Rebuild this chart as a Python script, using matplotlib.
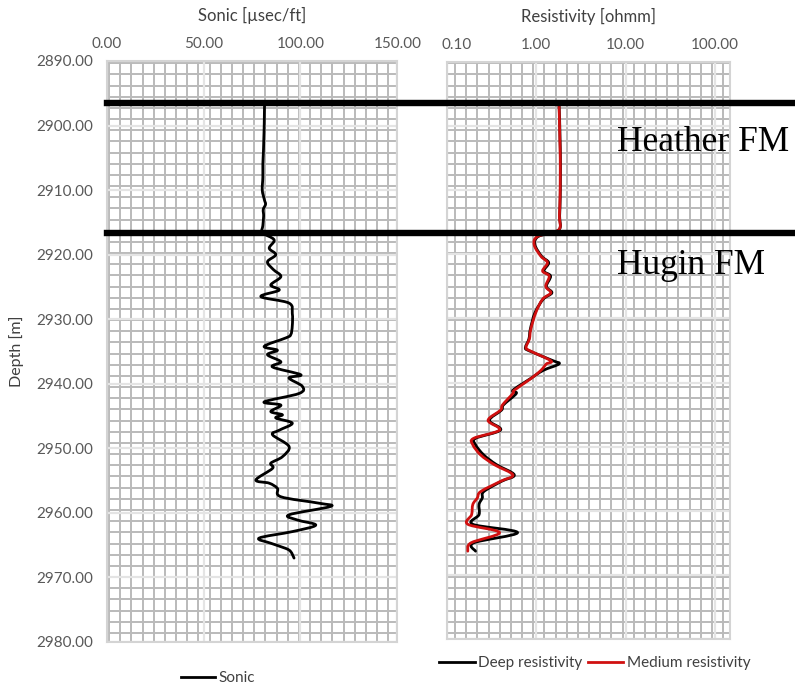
import matplotlib
matplotlib.use("Agg")
import numpy as np
import matplotlib.pyplot as plt
from matplotlib.collections import LineCollection
from matplotlib.lines import Line2D
from matplotlib.path import Path
from matplotlib.patches import PathPatch
from matplotlib.transforms import blended_transform_factory, ScaledTranslation

# --- data ---
sonic_depth = [2896.4, 2898.0, 2900.0, 2902.0, 2904.0, 2906.0, 2908.0, 2910.0, 2911.5, 2912.2,
               2913.0, 2914.0, 2915.5, 2916.6, 2917.7, 2919.0, 2920.0, 2921.1, 2922.3, 2923.4,
               2924.7, 2925.5, 2926.5, 2927.5, 2929.1, 2931.0, 2932.4, 2932.9, 2934.2, 2934.8,
               2935.5, 2936.6, 2937.4, 2938.6, 2939.1, 2940.4, 2941.5, 2942.8, 2943.3, 2944.3,
               2944.8, 2945.3, 2946.1, 2947.2, 2947.9, 2949.7, 2951.3, 2952.3, 2953.1, 2954.9,
               2955.4, 2956.2, 2957.5, 2958.5, 2959.0, 2960.3, 2961.1, 2961.9, 2962.9, 2963.9,
               2964.7, 2965.5, 2966.0, 2967.0]
sonic = [81.5, 81.4, 81.3, 81.1, 80.9, 80.6, 80.6, 80.3, 81.4, 82.0,
         80.8, 81.0, 80.6, 80.4, 86.4, 83.9, 87.3, 83.0, 86.0, 89.9,
         84.7, 89.0, 79.6, 94.1, 95.8, 95.8, 95.0, 92.4, 81.3, 88.1,
         83.0, 89.9, 85.6, 100.2, 94.1, 101.0, 99.3, 81.3, 89.9, 84.7,
         90.7, 87.3, 95.8, 89.0, 85.6, 94.1, 90.7, 84.7, 85.6, 77.0,
         83.9, 88.1, 89.9, 109.6, 115.6, 94.1, 98.4, 107.9, 95.8, 78.7,
         84.7, 92.4, 95.0, 96.7]

res_depth = [2896.4, 2899.0, 2902.0, 2905.0, 2908.0, 2911.0, 2914.0, 2916.2, 2917.2, 2918.5,
             2920.3, 2921.3, 2922.6, 2923.4, 2925.0, 2926.0, 2927.0, 2929.1, 2931.7, 2933.2,
             2934.5, 2935.0, 2936.6, 2937.1, 2938.1, 2939.4, 2941.2, 2941.7, 2943.5, 2944.3,
             2945.9, 2947.4, 2948.7, 2949.7, 2951.3, 2952.8, 2954.4, 2955.4, 2957.0, 2958.0,
             2959.0, 2960.6, 2962.1, 2963.4, 2965.0, 2966.3]
deep_res = [1.80, 1.83, 1.85, 1.87, 1.87, 1.86, 1.83, 1.79, 1.06, 0.97,
            1.15, 1.38, 1.22, 1.45, 1.30, 1.50, 1.20, 0.97, 0.86, 0.83,
            0.76, 0.82, 1.55, 1.80, 1.20, 0.86, 0.55, 0.60, 0.43, 0.41,
            0.30, 0.40, 0.21, 0.21, 0.26, 0.36, 0.57, 0.41, 0.26, 0.25,
            0.23, 0.23, 0.195, 0.62, 0.20, 0.21]
medium_res = [1.80, 1.82, 1.84, 1.86, 1.86, 1.85, 1.82, 1.78, 1.04, 0.95,
              1.13, 1.34, 1.18, 1.40, 1.28, 1.46, 1.18, 0.99, 0.87, 0.84,
              0.77, 0.84, 1.46, 1.30, 1.13, 0.87, 0.57, 0.55, 0.42, 0.40,
              0.29, 0.39, 0.20, 0.196, 0.24, 0.34, 0.55, 0.40, 0.24, 0.22,
              0.196, 0.19, 0.172, 0.39, 0.187, 0.172]

formation_tops = [2896.5, 2916.6]
formation_names = ["Heather FM", "Hugin FM"]

depth_ticks = list(range(2890, 2990, 10))
sonic_ticks = [0, 50, 100, 150]
res_ticks = [0.1, 1, 10, 100]

W, H = 795, 689
GRAY_TXT = "#595959"
plt.rcParams["font.family"] = ["Lato", "DejaVu Sans"]

fig = plt.figure(figsize=(W / 100, H / 100), dpi=100)


def px_axes(left, top, right, bottom):
    return fig.add_axes([left / W, 1 - bottom / H, (right - left) / W, (bottom - top) / H])


def graph_paper(ax, left, top, right, bottom, x0, y0, step=11.17):
    # background "graph paper" grid, uniform in pixels
    w, h = right - left, bottom - top
    segs = []
    x = x0
    while x < w - 1:
        segs.append([(x / w, 0), (x / w, 1)])
        x += step
    y = y0
    while y < h - 1:
        segs.append([(0, 1 - y / h), (1, 1 - y / h)])
        y += step
    lc = LineCollection(segs, colors="#bababa", linewidths=1.4, transform=ax.transAxes, zorder=0.3)
    ax.add_collection(lc)


def smooth_curve(ax, xs, ys, logx=False, **kw):
    # Excel-style smoothed line: Catmull-Rom segments drawn as cubic Beziers
    x = np.log10(xs) if logx else np.asarray(xs, float)
    y = np.asarray(ys, float)
    p = np.column_stack([x, y])
    p = np.vstack([p[0], p, p[-1]])
    verts = [p[1]]
    codes = [Path.MOVETO]
    for i in range(1, len(p) - 2):
        c1 = p[i] + (p[i + 1] - p[i - 1]) / 6
        c2 = p[i + 1] - (p[i + 2] - p[i]) / 6
        verts += [c1, c2, p[i + 1]]
        codes += [Path.CURVE4] * 3
    verts = np.array(verts)
    if logx:
        verts[:, 0] = 10 ** verts[:, 0]
    ax.add_patch(PathPatch(Path(verts, codes), fill=False, capstyle="round",
                           joinstyle="round", **kw))


def style(ax):
    for s in ax.spines.values():
        s.set_color("#d4d4d4")
        s.set_linewidth(1.5)
    ax.grid(True, which="major", color="#e4e4e4", linewidth=1.6, zorder=0.4)
    ax.set_axisbelow(True)
    ax.tick_params(length=0, labelsize=11, labelcolor=GRAY_TXT)
    ax.xaxis.set_label_position("top")
    ax.xaxis.tick_top()


# --- sonic track ---
s_box = (106.7, 61, 397.3, 642)
ax1 = px_axes(*s_box)
style(ax1)
graph_paper(ax1, *s_box, x0=2.3, y0=2.2)
smooth_curve(ax1, sonic, sonic_depth, edgecolor="black", linewidth=2.0, zorder=3)
ax1.plot([], [], color="black", linewidth=2.0, label="Sonic")
ax1.set_xlim(0, 150)
ax1.set_ylim(2980, 2890)
ax1.set_xticks(sonic_ticks)
ax1.set_xticklabels([f"{v:.2f}" for v in sonic_ticks])
ax1.set_yticks(depth_ticks)
ax1.set_yticklabels([f"{v:.2f}" for v in depth_ticks])
ax1.tick_params(axis="x", pad=7.5)
ax1.tick_params(axis="y", pad=10)
ax1.set_xlabel("Sonic [µsec/ft]", fontsize=12, color="#404040", labelpad=11)
ax1.set_ylabel("Depth [m]", fontsize=11.5, color="#404040", labelpad=8.5)
ax1.legend(loc="center", bbox_to_anchor=(218 / W, 1 - 678 / H), bbox_transform=fig.transFigure,
           frameon=False, fontsize=11, handlelength=2.2, handletextpad=0.25,
           labelcolor="#404040")

# --- resistivity track ---
r_box = (446.7, 62, 730, 639)
ax2 = px_axes(*r_box)
ax2.set_xscale("log")
style(ax2)
graph_paper(ax2, *r_box, x0=8.3, y0=1.2)
smooth_curve(ax2, deep_res, res_depth, logx=True, edgecolor="black", linewidth=2.0, zorder=3)
smooth_curve(ax2, medium_res, res_depth, logx=True, edgecolor="#d01010", linewidth=2.0, zorder=4)
ax2.plot([], [], color="black", linewidth=2.0, label="Deep resistivity")
ax2.plot([], [], color="#d01010", linewidth=2.0, label="Medium resistivity")
ax2.set_xlim(0.1, 147)
ax2.set_ylim(2980, 2890)
ax2.minorticks_off()
ax2.set_xticks(res_ticks)
ax2.set_xticklabels([f"{v:.2f}" for v in res_ticks])
ax2.set_yticks(depth_ticks)
ax2.tick_params(axis="y", labelleft=False)
ax2.tick_params(axis="x", pad=7.5)
ax2.set_xlabel("Resistivity [ohmm]", fontsize=12, color="#404040", labelpad=11)
ticks = ax2.xaxis.get_major_ticks()
ticks[0].label2.set_transform(ticks[0].label2.get_transform()
                              + ScaledTranslation(10 / 100, 0, fig.dpi_scale_trans))
ax2.legend(loc="center", bbox_to_anchor=(595 / W, 1 - 663 / H), bbox_transform=fig.transFigure,
           ncol=2, frameon=False, fontsize=11, handlelength=2.3, handletextpad=0.25,
           columnspacing=0.35, labelcolor="#404040")

# --- formation tops ---
trans = blended_transform_factory(fig.transFigure, ax1.transData)
for top in formation_tops:
    fig.add_artist(Line2D([s_box[0] / W, 1.0], [top, top], transform=trans,
                          color="black", linewidth=4.6, zorder=5))
for name, base_y in zip(formation_names, [151, 274]):
    fig.text(617 / W, 1 - base_y / H, name, fontsize=25.5, family="Liberation Serif",
             color="black", ha="left", va="baseline")

fig.savefig("out.png", dpi=100)
